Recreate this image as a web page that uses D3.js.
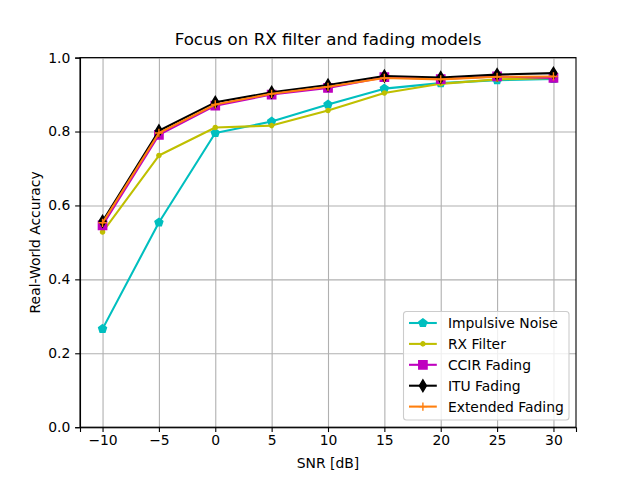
<!DOCTYPE html>
<html lang="en">
<head>
  <meta charset="UTF-8">
  <title>Focus on RX filter and fading models</title>
  <script src="https://d3js.org/d3.v7.min.js"></script>
  <style>
    body { margin: 0; background: #fff; }
    text { font-family: "DejaVu Sans", sans-serif; fill: #000; }
    .grid line { stroke: #b0b0b0; stroke-width: 1.1; }
    .grid path { display: none; }
    .axis path, .axis line { stroke: #000; stroke-width: 1.1; }
    .axis text { font-size: 13.9px; }
  </style>
</head>
<body>
  <svg id="chart" width="640" height="480"></svg>
  <script>
    const snr = [-10, -5, 0, 5, 10, 15, 20, 25, 30];
    const impulsiveNoise = [0.266, 0.554, 0.796, 0.827, 0.873, 0.916, 0.931, 0.939, 0.942];
    const rxFilter = [0.528, 0.735, 0.811, 0.816, 0.857, 0.904, 0.929, 0.941, 0.945];
    const ccirFading = [0.546, 0.791, 0.870, 0.900, 0.918, 0.947, 0.942, 0.949, 0.945];
    const ituFading = [0.557, 0.802, 0.879, 0.906, 0.926, 0.950, 0.946, 0.954, 0.958];
    const extendedFading = [0.553, 0.796, 0.873, 0.902, 0.921, 0.945, 0.941, 0.948, 0.949];
    const xTicks = [-10, -5, 0, 5, 10, 15, 20, 25, 30];
    const yTicks = [0, 0.2, 0.4, 0.6, 0.8, 1.0];

    const series = [
      { name: "Impulsive Noise", values: impulsiveNoise, color: "#00bfbf", marker: "pentagon" },
      { name: "RX Filter", values: rxFilter, color: "#bfbf00", marker: "point" },
      { name: "CCIR Fading", values: ccirFading, color: "#bf00bf", marker: "square" },
      { name: "ITU Fading", values: ituFading, color: "#000000", marker: "thindiamond" },
      { name: "Extended Fading", values: extendedFading, color: "#ff7f0e", marker: "plus" }
    ];

    const svg = d3.select("svg#chart");
    const width = +svg.attr("width");
    const height = +svg.attr("height");
    const margins = { top: 57.6, right: 64, bottom: 52.8, left: 80 };
    const chartWidth = width - margins.left - margins.right;
    const chartHeight = height - margins.top - margins.bottom;

    const xScale = d3.scaleLinear().domain([-12, 32]).range([0, chartWidth]);
    const yScale = d3.scaleLinear().domain([0, 1]).range([chartHeight, 0]);

    const chartArea = svg.append("g")
      .attr("transform", `translate(${margins.left},${margins.top})`);

    // gridlines
    chartArea.append("g")
      .attr("class", "grid")
      .attr("transform", `translate(0,${chartHeight})`)
      .call(d3.axisBottom(xScale).tickValues(xTicks).tickSize(-chartHeight).tickFormat(""));
    chartArea.append("g")
      .attr("class", "grid")
      .call(d3.axisLeft(yScale).tickValues(yTicks).tickSize(-chartWidth).tickFormat(""));

    // marker shapes (matplotlib-ish sizes, markersize 6pt)
    const ms = 8.33;
    function markerPath(type) {
      if (type === "pentagon") {
        const r = ms / 2;
        const pts = d3.range(5).map(i => {
          const a = -Math.PI / 2 + i * 2 * Math.PI / 5;
          return [r * Math.cos(a), r * Math.sin(a)];
        });
        return "M" + pts.map(p => p.join(",")).join("L") + "Z";
      }
      if (type === "point") {
        const r = ms / 4;
        return `M${-r},0A${r},${r} 0 1,0 ${r},0A${r},${r} 0 1,0 ${-r},0Z`;
      }
      if (type === "square") {
        const h = ms / 2;
        return `M${-h},${-h}H${h}V${h}H${-h}Z`;
      }
      if (type === "thindiamond") {
        const hy = ms * Math.SQRT2 / 2, hx = hy * 0.6;
        return `M0,${-hy}L${hx},0L0,${hy}L${-hx},0Z`;
      }
      const h = ms / 2;
      return `M${-h},0H${h}M0,${-h}V${h}`;
    }

    const line = d3.line()
      .x((d, i) => xScale(snr[i]))
      .y(d => yScale(d));

    series.forEach(s => {
      const g = chartArea.append("g");
      g.append("path")
        .attr("d", line(s.values))
        .attr("fill", "none")
        .attr("stroke", s.color)
        .attr("stroke-width", 2.08)
        .attr("stroke-linejoin", "round")
        .attr("stroke-linecap", "square");
      g.selectAll("path.marker")
        .data(s.values)
        .join("path")
        .attr("class", "marker")
        .attr("transform", (d, i) => `translate(${xScale(snr[i])},${yScale(d)})`)
        .attr("d", markerPath(s.marker))
        .attr("fill", s.marker === "plus" ? "none" : s.color)
        .attr("stroke", s.color)
        .attr("stroke-width", 1.39);
    });

    // axes
    const bottomAxis = d3.axisBottom(xScale)
      .tickValues(xTicks)
      .tickSize(4.86)
      .tickPadding(3.5)
      .tickFormat(d => d < 0 ? "\u2212" + Math.abs(d) : d);
    chartArea.append("g")
      .attr("class", "axis")
      .attr("transform", `translate(0,${chartHeight})`)
      .call(bottomAxis);

    const leftAxis = d3.axisLeft(yScale)
      .tickValues(yTicks)
      .tickSize(4.86)
      .tickPadding(4.86)
      .tickFormat(d3.format(".1f"));
    chartArea.append("g")
      .attr("class", "axis")
      .call(leftAxis);

    // spines
    chartArea.append("rect")
      .attr("width", chartWidth)
      .attr("height", chartHeight)
      .attr("fill", "none")
      .attr("stroke", "#000")
      .attr("stroke-width", 1.1);

    // title and labels
    svg.append("text")
      .attr("x", margins.left + chartWidth / 2)
      .attr("y", margins.top - 12.5)
      .attr("text-anchor", "middle")
      .style("font-size", "16.7px")
      .text("Focus on RX filter and fading models");

    svg.append("text")
      .attr("x", margins.left + chartWidth / 2)
      .attr("y", 468)
      .attr("text-anchor", "middle")
      .style("font-size", "13.9px")
      .text("SNR [dB]");

    svg.append("text")
      .attr("transform", `translate(40,${margins.top + chartHeight / 2}) rotate(-90)`)
      .attr("text-anchor", "middle")
      .style("font-size", "13.9px")
      .text("Real-World Accuracy");

    // legend
    const legend = svg.append("g").attr("transform", "translate(403.5,311.5)");
    legend.append("rect")
      .attr("width", 165.5)
      .attr("height", 108.5)
      .attr("rx", 3)
      .attr("fill", "#fff")
      .attr("fill-opacity", 0.8)
      .attr("stroke", "#cccccc")
      .attr("stroke-width", 1.1);
    series.forEach((s, i) => {
      const y = 11.5 + i * 20.9;
      const row = legend.append("g").attr("transform", `translate(0,${y})`);
      row.append("line")
        .attr("x1", 5.5).attr("x2", 33.3)
        .attr("stroke", s.color)
        .attr("stroke-width", 2.08);
      row.append("path")
        .attr("transform", "translate(19.4,0)")
        .attr("d", markerPath(s.marker))
        .attr("fill", s.marker === "plus" ? "none" : s.color)
        .attr("stroke", s.color)
        .attr("stroke-width", 1.39);
      row.append("text")
        .attr("x", 44.4)
        .attr("dy", "0.36em")
        .style("font-size", "13.9px")
        .text(s.name);
    });
  </script>
</body>
</html>
